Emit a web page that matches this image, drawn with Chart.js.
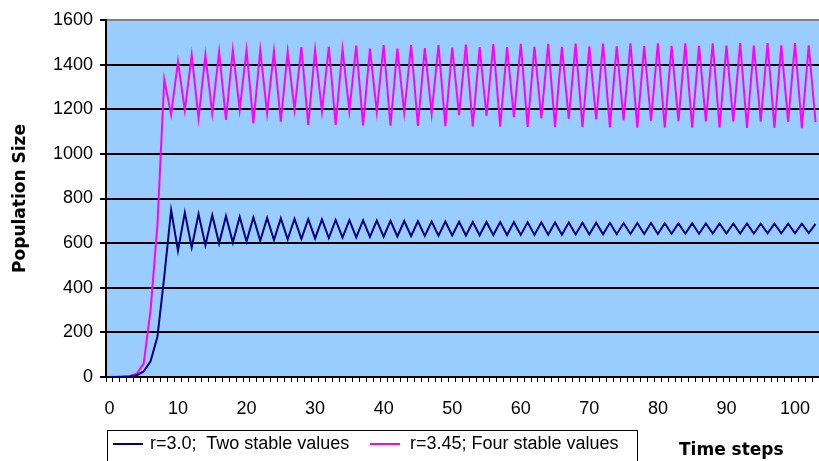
<!DOCTYPE html>
<html>
<head>
<meta charset="utf-8">
<script src="https://cdn.jsdelivr.net/npm/chart.js@4.4.1/dist/chart.umd.min.js"></script>
<style>
  html, body { margin: 0; padding: 0; background: #fff; overflow: hidden; }
  #wrap { position: relative; width: 819px; height: 461px; }
  #legend {
    position: absolute; left: 107px; top: 430px; width: 529px; height: 40px;
    border: 1px solid #000; background: #fff;
    font-family: "Liberation Sans", Arial, sans-serif; font-size: 18px; color: #000;
  }
  .swatch { position: absolute; top: 12px; width: 30px; height: 2px; }
  .label { position: absolute; top: 2px; line-height: 21px; white-space: nowrap; }
  #xtitle {
    position: absolute; left: 679px; top: 439px; line-height: 20px;
    font-family: "DejaVu Sans", Verdana, sans-serif; font-weight: bold; font-size: 17px;
  }
</style>
</head>
<body>
<div id="wrap">
  <canvas id="chart" width="819" height="461"></canvas>
  <div id="legend">
    <span class="swatch" style="left:5px; background:#000080"></span>
    <span class="label" style="left:42px">r=3.0;&nbsp; Two stable values</span>
    <span class="swatch" style="left:262px; background:#ff00ff"></span>
    <span class="label" style="left:302px">r=3.45; Four stable values</span>
  </div>
  <div id="xtitle">Time steps</div>
</div>
<script>
// time steps 0..103 visible in the picture
const steps = [];
for (let i = 0; i <= 103; i++) steps.push(String(i));

const yTicks = [0, 200, 400, 600, 800, 1000, 1200, 1400, 1600];

// r = 3.0 (damped two-value oscillation)
const twoStable = [
  0, 0, 1, 2, 8, 25, 70, 180, 450, 748,
  566, 737, 581, 730, 591, 725, 598, 721, 603, 718,
  607, 715, 611, 713, 614, 711, 617, 709, 619, 707,
  621, 706, 623, 704, 625, 703, 626, 702, 628, 701,
  629, 700, 630, 699, 631, 698, 632, 697, 633, 697,
  634, 696, 634, 695, 635, 695, 636, 694, 636, 694,
  637, 693, 637, 693, 638, 692, 638, 692, 639, 691,
  639, 691, 640, 691, 640, 690, 641, 690, 641, 690,
  641, 689, 642, 689, 642, 689, 642, 688, 643, 688,
  643, 688, 643, 688, 643, 687, 644, 687, 644, 687,
  644, 687, 645, 686
];

// r = 3.45 (four-value cycle)
const fourStable = [
  0, 1, 2, 5, 15, 60, 300, 680, 1334, 1175,
  1413, 1195, 1443, 1160, 1443, 1182, 1458, 1152, 1466, 1197,
  1466, 1137, 1466, 1182, 1460, 1144, 1458, 1197, 1478, 1130,
  1466, 1190, 1480, 1130, 1469, 1192, 1485, 1128, 1472, 1188,
  1488, 1126, 1472, 1185, 1488, 1125, 1474, 1180, 1488, 1124,
  1476, 1175, 1490, 1123, 1478, 1170, 1492, 1122, 1478, 1165,
  1493, 1121, 1480, 1160, 1493, 1120, 1480, 1157, 1494, 1120,
  1482, 1154, 1494, 1119, 1482, 1151, 1495, 1118, 1483, 1149,
  1495, 1118, 1484, 1147, 1495, 1117, 1484, 1146, 1495, 1117,
  1485, 1145, 1496, 1116, 1485, 1144, 1496, 1116, 1486, 1143,
  1496, 1115, 1486, 1142
];

const plotBg = {
  id: "plotBg",
  beforeDraw(chart) {
    const a = chart.chartArea;
    const ctx = chart.ctx;
    ctx.save();
    ctx.fillStyle = "#99ccff";
    ctx.fillRect(a.left, a.top, a.right - a.left, a.bottom - a.top);
    ctx.restore();
  }
};

const font = { family: "'Liberation Sans', Arial, sans-serif", size: 18 };

new Chart(document.getElementById("chart"), {
  type: "line",
  data: {
    labels: steps,
    datasets: [
      { label: "r=3.0;  Two stable values", data: twoStable, borderColor: "#000080", borderWidth: 2 },
      { label: "r=3.45; Four stable values", data: fourStable, borderColor: "#ff00ff", borderWidth: 2 }
    ]
  },
  options: {
    responsive: false,
    animation: false,
    layout: { padding: { top: 20, right: 0, left: 0, bottom: 0 } },
    elements: { point: { radius: 0 }, line: { tension: 0 } },
    plugins: { legend: { display: false }, tooltip: { enabled: false } },
    scales: {
      x: {
        type: "category",
        offset: true,
        grid: { offset: true, drawOnChartArea: false, color: "#000", tickLength: 5 },
        border: { color: "#000", width: 2 },
        ticks: {
          autoSkip: false, maxRotation: 0, minRotation: 0, padding: 16,
          color: "#000", font: font,
          callback: (v, i) => (i % 10 === 0 ? steps[i] : "")
        },
        afterFit: (s) => { s.height = 84; s.paddingLeft = 0; s.paddingRight = 0; }
      },
      y: {
        min: 0, max: 1600,
        afterBuildTicks: (s) => { s.ticks = yTicks.map((v) => ({ value: v })); },
        grid: {
          color: (c) => (c.tick && c.tick.value === 1600 ? "#808080" : "#000"),
          lineWidth: 2, tickColor: "#000", tickLength: 6
        },
        border: { color: "#000", width: 2 },
        ticks: { color: "#000", font: font, padding: 7, callback: (v) => String(v) },
        title: {
          display: true, text: "Population Size", color: "#000",
          font: { family: "'DejaVu Sans', Verdana, sans-serif", size: 17, weight: "bold" },
          padding: { top: 10, bottom: 0 }
        },
        afterFit: (s) => { s.width = 106; }
      }
    }
  },
  plugins: [plotBg]
});
</script>
</body>
</html>
